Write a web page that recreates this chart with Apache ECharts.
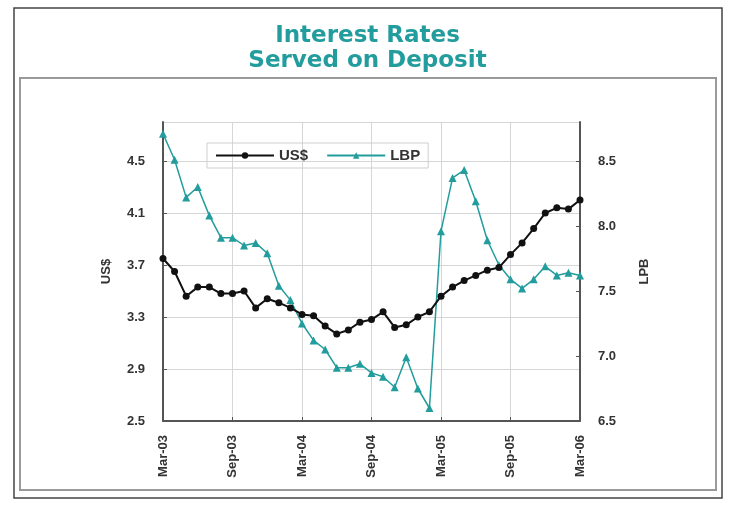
<!DOCTYPE html>
<html>
<head>
<meta charset="utf-8">
<script src="https://cdn.jsdelivr.net/npm/echarts@6/dist/echarts.min.js"></script>
<style>html,body{margin:0;padding:0;background:#fff}#c{width:735px;height:517px}</style>
</head>
<body>
<div id="c"></div>
<script>
const months = ['Mar-03','Apr-03','May-03','Jun-03','Jul-03','Aug-03','Sep-03','Oct-03','Nov-03','Dec-03','Jan-04','Feb-04',
  'Mar-04','Apr-04','May-04','Jun-04','Jul-04','Aug-04','Sep-04','Oct-04','Nov-04','Dec-04','Jan-05','Feb-05',
  'Mar-05','Apr-05','May-05','Jun-05','Jul-05','Aug-05','Sep-05','Oct-05','Nov-05','Dec-05','Jan-06','Feb-06','Mar-06'];
const usd = [3.75,3.65,3.46,3.53,3.53,3.48,3.48,3.50,3.37,3.44,3.41,3.37,
  3.32,3.31,3.23,3.17,3.20,3.26,3.28,3.34,3.22,3.24,3.30,3.34,
  3.46,3.53,3.58,3.62,3.66,3.68,3.78,3.87,3.98,4.10,4.14,4.13,4.20];
const lbp = [8.71,8.51,8.22,8.30,8.08,7.91,7.91,7.85,7.87,7.79,7.54,7.43,
  7.25,7.12,7.05,6.91,6.91,6.94,6.87,6.84,6.76,6.99,6.75,6.60,
  7.96,8.37,8.43,8.19,7.89,7.70,7.59,7.52,7.59,7.69,7.62,7.64,7.62];

const teal = '#229c9c';
const axisCol = '#555';
const gridCol = '#d6d6d6';
const lblFont = {fontFamily:'Liberation Sans, Arial', fontWeight:'bold', fontSize:13, color:'#333'};

const chart = echarts.init(document.getElementById('c'), null, {renderer:'canvas'});
chart.setOption({
  backgroundColor:'#fff',
  animation:false,
  title:{
    text:'Interest Rates\nServed on Deposit',
    left:'center', top:19,
    textStyle:{fontFamily:'DejaVu Sans', fontWeight:'bold', fontSize:23, lineHeight:25, color:teal}
  },
  graphic:[
    {type:'rect', shape:{x:14,y:8,width:708,height:490}, style:{fill:'none', stroke:'#444', lineWidth:1.5}, silent:true, z:-10},
    {type:'rect', shape:{x:20,y:78,width:696,height:412}, style:{fill:'none', stroke:'#9a9a9a', lineWidth:2}, silent:true, z:-10}
  ],
  legend:{
    left:207, top:143,
    padding:[5,8,5,8],
    borderColor:'#cfcfcf', borderWidth:1,
    itemWidth:58, itemHeight:8, itemGap:18,
    textStyle:{fontFamily:'Liberation Sans, Arial', fontWeight:'bold', fontSize:15, color:'#333'},
    data:['US$','LBP']
  },
  grid:{left:163, right:155, top:122, bottom:96, containLabel:false},
  xAxis:{
    type:'category', data:months, boundaryGap:false,
    axisLine:{lineStyle:{color:axisCol, width:2}},
    axisTick:{inside:true, length:4, interval:5, lineStyle:{color:axisCol}},
    axisLabel:Object.assign({rotate:90, interval:5, margin:14}, lblFont),
    splitLine:{show:true, interval:5, lineStyle:{color:gridCol, width:1}}
  },
  yAxis:[
    {type:'value', min:2.5, max:4.8, interval:0.4, position:'left',
     name:'US$', nameLocation:'middle', nameRotate:90, nameGap:50,
     nameTextStyle:lblFont,
     axisLine:{show:true, lineStyle:{color:axisCol, width:2}},
     axisTick:{show:true, inside:true, length:4, lineStyle:{color:axisCol}},
     axisLabel:Object.assign({margin:18, showMaxLabel:false, formatter:v=>v.toFixed(1)}, lblFont),
     splitLine:{show:true, lineStyle:{color:gridCol, width:1}}},
    {type:'value', min:6.5, max:8.8, interval:0.5, position:'right',
     name:'LPB', nameLocation:'middle', nameRotate:90, nameGap:58,
     nameTextStyle:lblFont,
     axisLine:{show:true, lineStyle:{color:axisCol, width:2}},
     axisTick:{show:true, inside:true, length:4, lineStyle:{color:axisCol}},
     axisLabel:Object.assign({margin:18, showMaxLabel:false, formatter:v=>v.toFixed(1)}, lblFont),
     splitLine:{show:false}}
  ],
  series:[
    {name:'US$', type:'line', yAxisIndex:0, data:usd,
     symbol:'circle', symbolSize:7, showAllSymbol:true,
     itemStyle:{color:'#111'}, lineStyle:{color:'#111', width:2}, z:3},
    {name:'LBP', type:'line', yAxisIndex:1, data:lbp,
     symbol:'triangle', symbolSize:8, showAllSymbol:true,
     itemStyle:{color:teal}, lineStyle:{color:teal, width:1.5}, z:2}
  ]
});
</script>
</body>
</html>
